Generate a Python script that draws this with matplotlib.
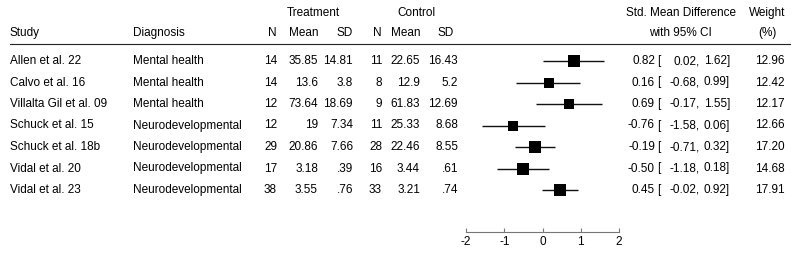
import numpy as np
import matplotlib.pyplot as plt

plt.rcParams['font.family'] = ['Liberation Sans', 'DejaVu Sans']

studies = ["Allen et al. 22", "Calvo et al. 16", "Villalta Gil et al. 09",
           "Schuck et al. 15", "Schuck et al. 18b", "Vidal et al. 20", "Vidal et al. 23"]
diagnosis = ["Mental health", "Mental health", "Mental health",
             "Neurodevelopmental", "Neurodevelopmental", "Neurodevelopmental", "Neurodevelopmental"]
t_n = ["14", "14", "12", "12", "29", "17", "38"]
t_mean = ["35.85", "13.6", "73.64", "19", "20.86", "3.18", "3.55"]
t_sd = ["14.81", "3.8", "18.69", "7.34", "7.66", ".39", ".76"]
c_n = ["11", "8", "9", "11", "28", "16", "33"]
c_mean = ["22.65", "12.9", "61.83", "25.33", "22.46", "3.44", "3.21"]
c_sd = ["16.43", "5.2", "12.69", "8.68", "8.55", ".61", ".74"]
smd = [0.82, 0.16, 0.69, -0.76, -0.19, -0.50, 0.45]
ci_lo = [0.02, -0.68, -0.17, -1.58, -0.71, -1.18, -0.02]
ci_hi = [1.62, 0.99, 1.55, 0.06, 0.32, 0.18, 0.92]
weight = [12.96, 12.42, 12.17, 12.66, 17.20, 14.68, 17.91]
xticks = [-2, -1, 0, 1, 2]

W, H = 800, 256
fig = plt.figure(figsize=(8, 2.56), dpi=100)

# text layer in pixel units
bg = fig.add_axes([0, 0, 1, 1])
bg.set_xlim(0, W)
bg.set_ylim(H, 0)
bg.axis('off')

row0, dy = 61, 21.5
fs = 8.5
kw = dict(fontsize=fs, va='center', color='black')

bg.text(313, 13, "Treatment", ha='center', **kw)
bg.text(416, 13, "Control", ha='center', **kw)
bg.text(681, 13, "Std. Mean Difference", ha='center', **kw)
bg.text(767, 13, "Weight", ha='center', **kw)
bg.text(10, 33, "Study", ha='left', **kw)
bg.text(133, 33, "Diagnosis", ha='left', **kw)
for x, s in [(277, "N"), (318, "Mean"), (353, "SD"), (382, "N"), (420, "Mean"), (454, "SD")]:
    bg.text(x, 33, s, ha='right', **kw)
bg.text(680, 33, "with 95% CI", ha='center', **kw)
bg.text(767, 33, "(%)", ha='center', **kw)
bg.plot([10, 790], [44, 44], color='#222222', lw=0.8)

for i in range(len(studies)):
    y = row0 + i * dy
    bg.text(10, y, studies[i], ha='left', **kw)
    bg.text(133, y, diagnosis[i], ha='left', **kw)
    bg.text(277, y, t_n[i], ha='right', **kw)
    bg.text(318, y, t_mean[i], ha='right', **kw)
    bg.text(353, y, t_sd[i], ha='right', **kw)
    bg.text(382, y, c_n[i], ha='right', **kw)
    bg.text(420, y, c_mean[i], ha='right', **kw)
    bg.text(458, y, c_sd[i], ha='right', **kw)
    bg.text(655, y, f"{smd[i]:.2f}", ha='right', **kw)
    bg.text(657, y, "[", ha='left', **kw)
    bg.text(700, y, f"{ci_lo[i]:.2f},", ha='right', **kw)
    bg.text(730, y, f"{ci_hi[i]:.2f}]", ha='right', **kw)
    bg.text(785, y, f"{weight[i]:.2f}", ha='right', **kw)

# forest plot axes: -2..2 spans pixels x0..x1, axis line at pixel ybase
x0, x1, ybase = 466, 619, 232
ax = fig.add_axes([x0 / W, (H - ybase) / H, (x1 - x0) / W, ybase / H])
ax.set_xlim(-2, 2)
ax.set_ylim((ybase - row0) / dy, (0 - row0) / dy)
ax.patch.set_alpha(0)
for s in ['top', 'left', 'right']:
    ax.spines[s].set_visible(False)
ax.spines['bottom'].set_color('#777777')
ax.spines['bottom'].set_linewidth(0.8)
ax.set_yticks([])
ax.set_xticks(xticks)
ax.set_xticklabels([str(t) for t in xticks])
ax.tick_params(axis='x', direction='in', length=3, width=0.8, color='#777777',
               labelsize=fs, pad=3)

rows = np.arange(len(studies))
ax.hlines(rows, ci_lo, ci_hi, color='#111111', lw=1.0)
for i in rows:
    side = 3.06 * np.sqrt(weight[i]) * 0.72
    ax.plot(smd[i], i, marker='s', ms=side, color='black', mec='black', mew=0, ls='none')

fig.savefig("out.png", dpi=100)
